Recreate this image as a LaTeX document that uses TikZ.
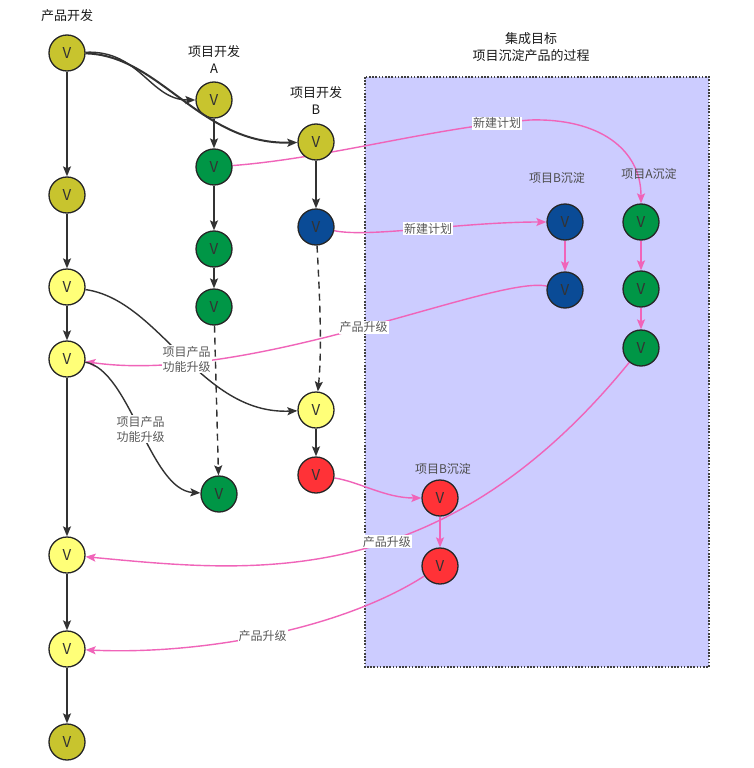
\documentclass[tikz,border=0pt]{standalone}
\usepackage{fontspec}
\newfontfamily\cjk{Noto Sans CJK SC}
\usetikzlibrary{arrows.meta, backgrounds}

\definecolor{olivenode}{RGB}{200,196,46}
\definecolor{yellownode}{RGB}{255,255,120}
\definecolor{greennode}{RGB}{0,150,70}
\definecolor{bluenode}{RGB}{10,75,150}
\definecolor{rednode}{RGB}{255,50,55}
\definecolor{goalfill}{RGB}{204,204,255}
\definecolor{linkpink}{RGB}{240,100,185}
\definecolor{darkline}{RGB}{50,50,50}

\begin{document}
\begin{tikzpicture}[x=1pt, y=-1pt, >={Stealth[length=10pt,width=8pt,inset=2pt]},
    commit/.style={circle, draw=black!85, line width=1.3pt, minimum size=36pt,
        inner sep=0pt, text=black!80, font=\cjk\fontsize{15}{15}\selectfont},
    title/.style={align=center, text=black!90, font=\cjk\fontsize{13}{17}\selectfont},
    tag/.style={text=black!70, font=\cjk\fontsize{12}{14}\selectfont},
    lbl/.style={fill=white, inner sep=1pt, align=center, text=black!65,
        font=\cjk\fontsize{12}{15}\selectfont},
    flow/.style={->, draw=darkline, line width=1.4pt},
    plan/.style={->, draw=linkpink, line width=1.4pt},
    goalbox/.style={fill=goalfill, draw=black!75, line width=1.6pt,
        dash pattern=on 1.6pt off 1.6pt}]

    \useasboundingbox (0,0) rectangle (754,768);

    % Headings
    \node[title] (tP)    at (67,16)  {产品开发};
    \node[title] (tA)    at (214,60) {项目开发\\A};
    \node[title] (tB)    at (316,101) {项目开发\\B};
    \node[title] (tGoal) at (531,47) {集成目标\\项目沉淀产品的过程};
    \node[tag]   (tSB)   at (557,178) {项目B沉淀};
    \node[tag]   (tSA)   at (649,174) {项目A沉淀};
    \node[tag]   (tRB)   at (443,469) {项目B沉淀};

    % Product line
    \node[commit, fill=olivenode]  (P1) at (67,53)  {V};
    \node[commit, fill=olivenode]  (P2) at (67,195) {V};
    \node[commit, fill=yellownode] (P3) at (67,287) {V};
    \node[commit, fill=yellownode] (P4) at (67,359) {V};
    \node[commit, fill=yellownode] (P5) at (67,555) {V};
    \node[commit, fill=yellownode] (P6) at (67,649) {V};
    \node[commit, fill=olivenode]  (P7) at (67,742) {V};

    % Project A
    \node[commit, fill=olivenode] (A1) at (214,100) {V};
    \node[commit, fill=greennode] (A2) at (214,167) {V};
    \node[commit, fill=greennode] (A3) at (214,249) {V};
    \node[commit, fill=greennode] (A4) at (214,307) {V};
    \node[commit, fill=greennode] (A5) at (219,494) {V};

    % Project B
    \node[commit, fill=olivenode]  (B1) at (316,142) {V};
    \node[commit, fill=bluenode]   (B2) at (316,227) {V};
    \node[commit, fill=yellownode] (B3) at (316,410) {V};
    \node[commit, fill=rednode]    (B4) at (316,475) {V};

    % Sedimentation
    \node[commit, fill=bluenode]  (SB1) at (565,222) {V};
    \node[commit, fill=bluenode]  (SB2) at (565,290) {V};
    \node[commit, fill=greennode] (SA1) at (641,222) {V};
    \node[commit, fill=greennode] (SA2) at (641,289) {V};
    \node[commit, fill=greennode] (SA3) at (641,348) {V};
    \node[commit, fill=rednode]   (R1)  at (440,498) {V};
    \node[commit, fill=rednode]   (R2)  at (440,566) {V};

    \coordinate (bendA) at (530,120);

    \begin{scope}[on background layer]
        \fill[white] (0,0) rectangle (754,768);
        \draw[goalbox] (365,77) rectangle (709,667);

        % Straight links
        \path (P1) edge[flow] (P2)
              (P2) edge[flow] (P3)
              (P3) edge[flow] (P4)
              (P4) edge[flow] (P5)
              (P5) edge[flow] (P6)
              (P6) edge[flow] (P7)
              (A1) edge[flow] (A2)
              (A2) edge[flow] (A3)
              (A3) edge[flow] (A4)
              (A4) edge[flow, dashed, dash pattern=on 7pt off 5pt] (A5)
              (B1) edge[flow] (B2)
              (B3) edge[flow] (B4);
        \draw[flow, dashed, dash pattern=on 7pt off 5pt]
            (B2) .. controls (320,300) and (322,350) .. (B3);
        \path (SB1) edge[plan] (SB2)
              (SA1) edge[plan] (SA2)
              (SA2) edge[plan] (SA3)
              (R1)  edge[plan] (R2);

        % Plans and upgrades
        \draw[plan] (A2) .. controls (330,158) and (430,128) .. (bendA)
            node[lbl, pos=0.89] {新建计划}
            .. controls (600,118) and (641,150) .. (SA1);
        \draw[plan] (B2) .. controls (370,238) and (460,222) .. (SB1)
            node[lbl, pos=0.53] {新建计划};
        \draw[plan] (SB2) .. controls (495,275) and (250,385) .. (P4)
            node[lbl, pos=0.49] {产品升级};
        \draw[plan] (B4) .. controls (360,482) and (385,498) .. (R1);
        \draw[plan] (SA3) .. controls (440,595) and (250,572) .. (P5)
            node[lbl, pos=0.43] {产品升级};
        \draw[plan] (R2) .. controls (340,630) and (200,655) .. (P6)
            node[lbl, pos=0.51] {产品升级};

        % Feature upgrades
        \draw[flow] (P1) .. controls (140,50) and (150,100) .. (A1);
        \draw[flow] (P3) .. controls (160,300) and (200,415) .. (B3)
            node[lbl, pos=0.52] {项目产品\\功能升级};
        \draw[flow] (P4) .. controls (130,370) and (150,490) .. (A5)
            node[lbl, pos=0.5] {项目产品\\功能升级};
    \end{scope}

    \draw[flow, line width=2pt] (P1) .. controls (160,55) and (200,145) .. (B1);

\end{tikzpicture}
\end{document}
